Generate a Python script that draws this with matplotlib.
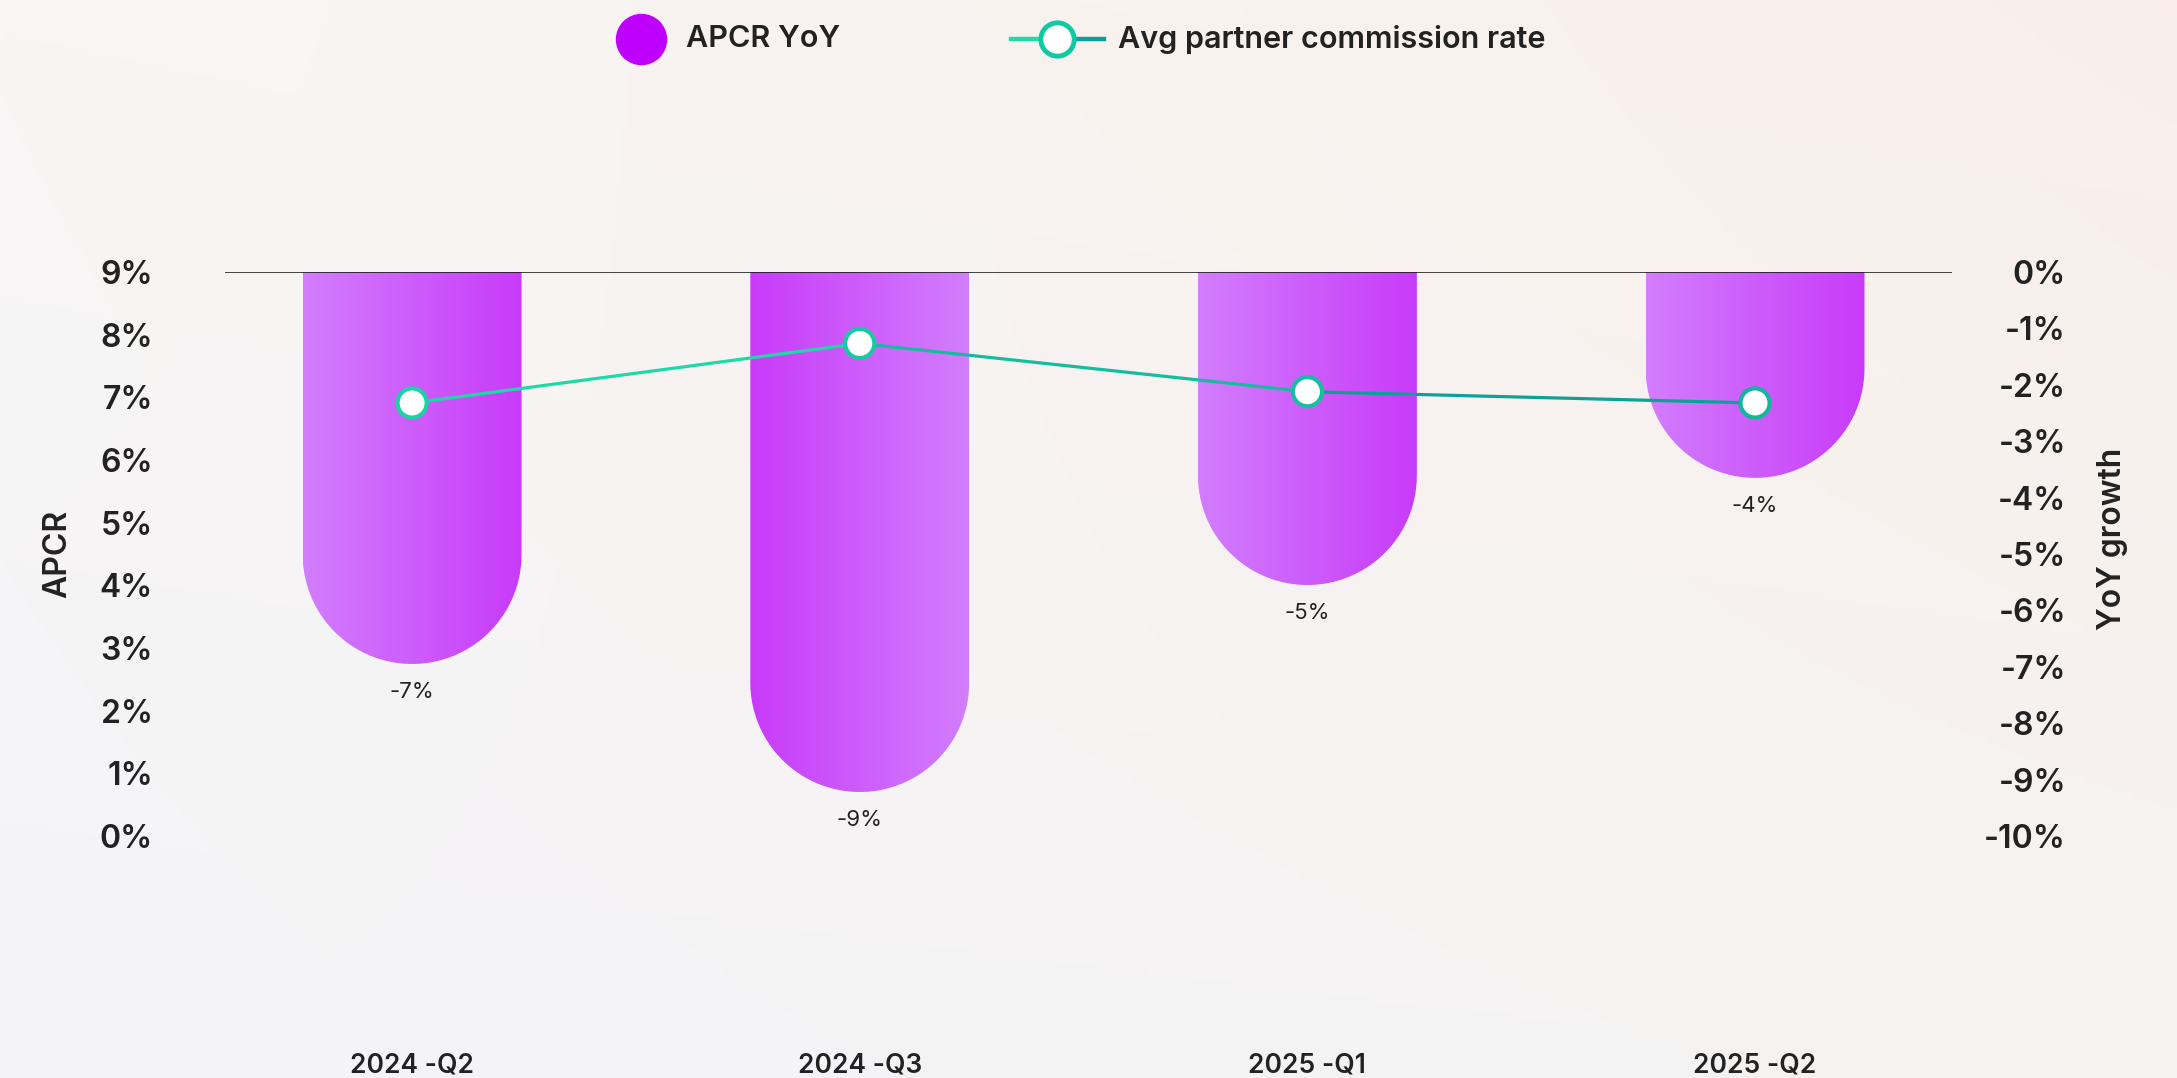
import numpy as np
import matplotlib
matplotlib.use("Agg")
import matplotlib.pyplot as plt
from matplotlib.path import Path
from matplotlib.patches import PathPatch
from matplotlib.collections import LineCollection
from matplotlib.colors import LinearSegmentedColormap
from matplotlib.lines import Line2D

plt.rcParams['font.family'] = ['Inter', 'DejaVu Sans']

quarters = ["2024 -Q2", "2024 -Q3", "2025 -Q1", "2025 -Q2"]
apcr_yoy = [-6.95, -9.22, -5.55, -3.65]          # bars, right axis (%)
apcr_yoy_labels = ["-7%", "-9%", "-5%", "-4%"]
apcr = [6.91, 7.86, 7.09, 6.91]                   # line, left axis (%)
left_ticks = list(range(0, 10))
right_ticks = list(range(-10, 1))

W, H, DPI = 2177, 1078, 100
fig = plt.figure(figsize=(W / DPI, H / DPI), dpi=DPI)

# soft background gradient
bg = fig.add_axes([0, 0, 1, 1], zorder=-10)
corners = np.array([[[0.973, 0.965, 0.960], [0.980, 0.937, 0.918]],
                    [[0.957, 0.957, 0.969], [0.961, 0.953, 0.949]]])
ty, tx = np.mgrid[0:1:200j, 0:1:400j]
img = (corners[0, 0] * ((1 - tx) * (1 - ty))[..., None] + corners[0, 1] * (tx * (1 - ty))[..., None]
       + corners[1, 0] * ((1 - tx) * ty)[..., None] + corners[1, 1] * (tx * ty)[..., None])
bg.imshow(img, aspect='auto', extent=[0, 1, 0, 1])
bg.set_xlim(0, 1)
bg.set_ylim(0, 1)
bg.axis('off')

ax_pos = [225 / W, 1 - 836 / H, (1952 - 225) / W, (836 - 272) / H]
ax = fig.add_axes(ax_pos)      # bars (right scale)
ax2 = ax.twinx()               # line (left scale)
for a in (ax, ax2):
    a.patch.set_visible(False)
    for s in a.spines.values():
        s.set_visible(False)

x = np.arange(len(quarters))
ax.set_xlim(-0.418, 3.44)
ax.set_ylim(-10, 0)
ax2.set_ylim(0, 9)

bar_w = 0.489
bar_cmap = LinearSegmentedColormap.from_list("bar", ["#d27efd", "#c83bf9"])
gradient_flip = [False, True, False, False]

ax_w_px = ax_pos[2] * W
ax_h_px = ax_pos[3] * H
px_per_x = ax_w_px / (ax.get_xlim()[1] - ax.get_xlim()[0])
px_per_y = ax_h_px / 10.0
r_px = bar_w * px_per_x / 2
r_y = r_px / px_per_y

for xi, v, flip in zip(x, apcr_yoy, gradient_flip):
    x0, x1 = xi - bar_w / 2, xi + bar_w / 2
    y_arc = v + r_y
    t = np.linspace(np.pi, 2 * np.pi, 60)
    arc_x = xi + (bar_w / 2) * np.cos(t)
    arc_y = y_arc + r_y * np.sin(t)
    verts = [(x0, 0), (x0, y_arc)] + list(zip(arc_x, arc_y)) + [(x1, y_arc), (x1, 0), (x0, 0)]
    codes = [Path.MOVETO] + [Path.LINETO] * (len(verts) - 2) + [Path.CLOSEPOLY]
    patch = PathPatch(Path(verts, codes), facecolor='none', edgecolor='none')
    ax.add_patch(patch)
    grad = np.linspace(0, 1, 256)[None, :]
    if flip:
        grad = grad[:, ::-1]
    im = ax.imshow(grad, cmap=bar_cmap, aspect='auto', extent=[x0, x1, v, 0],
                   interpolation='bicubic', zorder=2)
    im.set_clip_path(patch)

for xi, v, lab in zip(x, apcr_yoy, apcr_yoy_labels):
    ax.annotate(lab, (xi, v), xytext=(0, -20), textcoords='offset points',
                ha='center', va='center', fontsize=16, color='#222222')

ax.axhline(0, color='#111111', lw=1.1, zorder=3)
ax.set_xlim(-0.418, 3.44)
ax.set_ylim(-10, 0)

# line with green -> teal gradient
line_cmap = LinearSegmentedColormap.from_list("line", ["#1fe0a8", "#0a9a95"])
pts = np.column_stack([x, apcr])
segs = np.stack([pts[:-1], pts[1:]], axis=1)
lc = LineCollection(segs, colors=[line_cmap(v) for v in np.linspace(0.1, 0.9, len(segs))],
                    linewidths=2.3, zorder=4)
ax2.add_collection(lc)
ax2.scatter(x, apcr, s=21 ** 2, facecolor='white',
            edgecolor=[line_cmap(v) for v in np.linspace(0.2, 0.6, len(x))],
            linewidths=3, zorder=5)
ax2.set_ylim(0, 9)

# ticks (pads in points; 1 px = 0.72 pt at dpi 100)
ax.set_xticks(x)
ax.set_xticklabels(quarters, fontsize=19, fontweight='semibold', color='#222222')
ax.tick_params(axis='x', length=0, pad=156)

ax.set_yticks(right_ticks)
ax.set_yticklabels([f"{t}%" for t in right_ticks], fontsize=23, fontweight='semibold', color='#222222')
ax.yaxis.tick_right()
ax.tick_params(axis='y', length=0, pad=82)
for lbl in ax.get_yticklabels():
    lbl.set_horizontalalignment('right')

ax2.set_yticks(left_ticks)
ax2.set_yticklabels([f"{t}%" for t in left_ticks], fontsize=23, fontweight='semibold', color='#222222')
ax2.yaxis.tick_left()
ax2.tick_params(axis='y', length=0, pad=52)
ax2.tick_params(axis='x', length=0)

ax2.set_ylabel("APCR", fontsize=23, fontweight='semibold', color='#222222')
ax2.yaxis.set_label_position('left')
ax2.yaxis.set_label_coords(-0.088, 0.5)
ax.set_ylabel("YoY growth", fontsize=23, fontweight='semibold', color='#222222', rotation=90)
ax.yaxis.set_label_position('right')
ax.yaxis.set_label_coords(1.084, 0.527)

# legend drawn by hand in figure pixels
def fx(px):
    return px / W


def fy(py):
    return 1 - py / H


leg_y = fy(39)
fig.add_artist(Line2D([fx(641)], [leg_y], ls='none', marker='o', ms=36,
                      mfc='#c000ff', mec='#c000ff', transform=fig.transFigure))
fig.text(fx(686), leg_y, "APCR YoY", fontsize=22, fontweight='semibold',
         color='#222222', va='center', ha='left')
fig.add_artist(Line2D([fx(1011), fx(1057)], [leg_y, leg_y], color='#1fdca6', lw=3.2,
                      transform=fig.transFigure))
fig.add_artist(Line2D([fx(1057), fx(1104)], [leg_y, leg_y], color='#0c9f97', lw=3.2,
                      transform=fig.transFigure))
fig.add_artist(Line2D([fx(1057)], [leg_y], ls='none', marker='o', ms=24, mfc='white',
                      mec='#10c9a2', mew=3.5, transform=fig.transFigure))
fig.text(fx(1118), leg_y, "Avg partner commission rate", fontsize=22, fontweight='semibold',
         color='#222222', va='center', ha='left')

fig.savefig("out.png", dpi=DPI)
